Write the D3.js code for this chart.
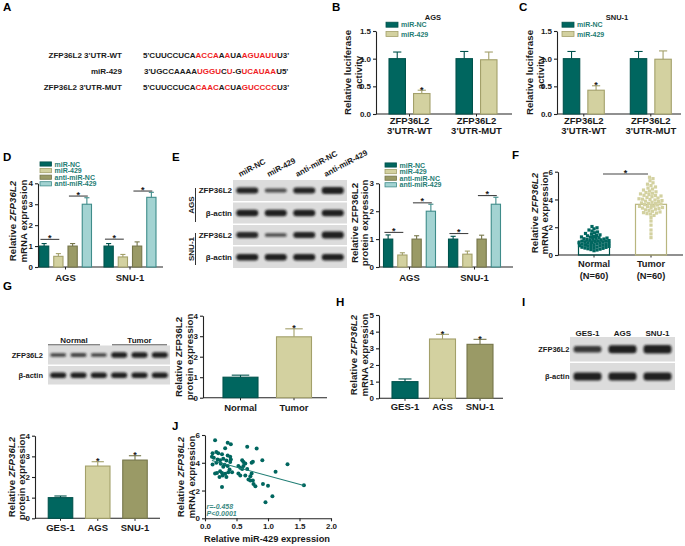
<!DOCTYPE html>
<html><head><meta charset="utf-8">
<script src="https://cdn.jsdelivr.net/npm/d3@7"></script>
<style>
body{margin:0;background:#fff;}
svg{display:block;font-family:"Liberation Sans",Arial,sans-serif;font-weight:bold;}
</style></head><body>
<svg id="fig" width="685" height="546"></svg>
<script>
// ================= DATA =================
// A: binding sequences  (segment, highlighted?)
const seqRowLabels = ["ZFP36L2 3'UTR-WT", "miR-429", "ZFP36L2 3'UTR-MUT"];
const seqWT  = [["5'CUUCCUCA",0],["ACCA",1],["A",0],["A",1],["UA",0],["AGUAUU",1],["U3'",0]];
const seqMiR = [["3'UGCCAAAA",0],["UGGU",1],["C",0],["U",1],["-G",0],["UCAUAA",1],["U5'",0]];
const seqMUT = [["5'CUUCCUCA",0],["CAAC",1],["A",0],["C",1],["UA",0],["GUCCCC",1],["U3'",0]];

// B / C: luciferase  [series][category]
const lucCats = ["ZFP36L2 3'UTR-WT", "ZFP36L2 3'UTR-MUT"];
const lucCatLines = [["ZFP36L2","3'UTR-WT"],["ZFP36L2","3'UTR-MUT"]];
const lucSeries = ["miR-NC", "miR-429"];
const lucAGS    = [[1.00, 1.00], [0.37, 0.98]];
const lucAGSErr = [[1.12, 1.13], [0.43, 1.12]];
const lucSNU    = [[1.00, 1.00], [0.43, 0.99]];
const lucSNUErr = [[1.13, 1.13], [0.51, 1.14]];
const lucSig    = [[0, 0], [1, 0]];
const lucTicks  = [0, 0.5, 1.0, 1.5];

// D / E: transfection  [series][cell line]
const cellLines   = ["AGS", "SNU-1"];
const transSeries = ["miR-NC", "miR-429", "anti-miR-NC", "anti-miR-429"];
const mrnaD    = [[1.00, 1.00], [0.51, 0.48], [1.00, 1.00], [3.00, 3.33]];
const mrnaDErr = [[1.12, 1.12], [0.64, 0.60], [1.12, 1.20], [3.31, 3.57]];
const protE    = [[1.00, 1.00], [0.43, 0.46], [1.00, 1.00], [2.00, 2.25]];
const protEErr = [[1.15, 1.10], [0.51, 0.57], [1.12, 1.14], [2.25, 2.50]];
const sigPairs   = [[0, 1], [2, 3]];
const bracketD   = [[1.32, 3.39], [1.33, 3.63]];   // [cell line][pair]
const bracketE   = [[1.24, 2.30], [1.20, 2.56]];
const ticksD = [0, 1, 2, 3, 4];
const ticksE = [0, 1, 2, 3];

// E blot
const blotERows   = ["ZFP36L2", "β-actin", "ZFP36L2", "β-actin"];
const blotEGroups = ["AGS", "SNU-1"];
const blotEInt    = [[0.95, 0.55, 0.95, 1.05], [1, 1, 1, 1], [0.9, 0.5, 0.95, 1.05], [1, 1, 1, 1]];

// F: tissue mRNA scatter
const tissueGroups = ["Normal", "Tumor"];
const tissueN      = ["(N=60)", "(N=60)"];
const tissueMeans  = [1.0, 3.65];
const tissueSig    = 5.83;
const normalVals = [0.31,0.36,0.42,0.45,0.48,0.50,0.53,0.56,0.58,0.61,0.62,0.65,0.67,0.70,0.72,0.73,0.76,0.78,0.81,0.83,
  0.85,0.88,0.90,0.92,0.94,0.97,1.00,1.02,1.04,1.07,1.09,1.12,1.15,1.17,1.20,1.22,1.25,1.28,1.30,1.34,
  1.38,1.41,1.45,1.50,1.55,1.60,1.66,1.72,1.80,1.88,1.96,2.05,0.39,0.55,0.74,0.87,0.99,1.13,0.66,0.82];
const tumorVals = [1.25,1.52,1.80,2.15,2.45,2.70,2.85,2.95,3.02,3.10,3.15,3.20,3.25,3.30,3.35,3.40,3.42,3.48,3.52,3.55,
  3.60,3.63,3.68,3.72,3.75,3.80,3.85,3.88,3.92,3.96,4.00,4.05,4.10,4.15,4.20,4.25,4.30,4.35,4.40,4.45,
  4.50,4.55,4.60,4.68,4.75,4.82,4.90,5.00,5.10,5.20,5.35,5.50,5.60,3.05,3.38,3.70,4.02,4.28,3.50,2.98];
const ticksF = [0, 2, 4, 6];

// G: tissue blot + protein
const blotGLanes = ["N1", "N2", "N3", "T1", "T2", "T3"];
const blotGRows  = ["ZFP36L2", "β-actin"];
const blotGInt   = [[0.6, 0.62, 0.6, 1, 1, 1], [1, 1, 1, 1, 1, 1]];
const protG      = [1.00, 2.97];
const protGErr   = [1.10, 3.36];
const protGSig   = [0, 1];

// H / I: cell lines
const cellLines3 = ["GES-1", "AGS", "SNU-1"];
const mrnaH      = [1.00, 3.56, 3.24];
const mrnaHErr   = [1.16, 3.84, 3.54];
const protI      = [1.00, 2.53, 2.82];
const protIErr   = [1.08, 2.74, 3.03];
const sig3       = [0, 1, 1];
const blotIRows  = ["ZFP36L2", "β-actin"];
const blotIInt   = [[0.75, 1, 1.05], [1, 1, 1]];
const ticksH = [0, 1, 2, 3, 4, 5];

// J: correlation
const jX = [0.16,0.36,0.41,0.67,0.82,0.32,0.12,0.18,0.21,0.27,0.36,0.40,0.11,0.14,0.20,0.24,0.29,0.34,0.41,0.59,
  0.61,0.64,0.74,0.76,0.91,1.31,0.12,0.18,0.25,0.31,0.40,0.29,0.36,0.39,0.53,0.56,0.59,0.61,0.67,0.19,
  0.24,0.27,0.32,0.37,0.43,0.53,0.56,0.64,0.72,0.74,0.16,0.23,0.28,0.34,0.72,0.76,0.69,1.12,0.77,0.80,
  0.92,1.00,1.57,0.27,1.07,0.96];
const jY = [5.62,5.45,5.33,5.16,5.02,5.04,4.68,4.78,4.68,4.61,4.53,4.44,4.44,4.36,4.24,4.19,4.29,4.17,4.24,4.19,
  4.05,3.95,4.00,4.07,4.19,3.90,3.88,4.00,3.93,3.85,4.05,3.71,3.76,3.52,3.76,3.64,3.56,3.76,3.56,3.27,
  3.39,3.27,3.20,3.32,3.32,3.22,3.08,3.08,3.03,3.22,3.22,2.98,3.08,2.98,2.72,2.72,2.79,3.35,2.47,2.30,
  2.47,2.35,2.38,2.25,1.58,1.16];
const jFitX = [0.11, 1.57];
const jFitY = [4.16, 2.36];
const jStats = ["r=-0.458", "P<0.0001"];
const jXTicks = [0, 0.5, 1.0, 1.5, 2.0];
const jYTicks = [0, 2, 4, 6];

// ================= STYLE =================
const C = {
  teal: "#00665f", tealS: "#00524c",
  khaki: "#d3d1a0", khakiS: "#a3a06a",
  olive: "#9a9a66", oliveS: "#76764a",
  lteal: "#a3d3d2", ltealS: "#3f8c8a",
  legTxt: "#1f7d74", red: "#f01c24", ink: "#1a1a1a", axis: "#222"
};
const transFill   = [C.teal, C.khaki, C.olive, C.lteal];
const transStroke = [C.tealS, C.khakiS, C.oliveS, C.ltealS];
const fill3   = [C.teal, C.khaki, C.olive];
const stroke3 = [C.tealS, C.khakiS, C.oliveS];

const svg = d3.select("#fig");
const defs = svg.append("defs");
defs.append("filter").attr("id", "blur").attr("x", "-30%").attr("y", "-80%").attr("width", "160%").attr("height", "260%")
  .append("feGaussianBlur").attr("stdDeviation", 0.9);

// ================= HELPERS =================
function letter(t, x, y) {
  svg.append("text").attr("x", x).attr("y", y).attr("font-size", 11.5).attr("fill", "#000").text(t);
}
function yAxis(y, x, ticks, fmt) {
  const g = svg.append("g").attr("transform", `translate(${x},0)`)
    .call(d3.axisLeft(y).tickValues(ticks).tickFormat(fmt).tickSize(3).tickSizeOuter(0).tickPadding(2));
  g.attr("font-family", null).attr("font-size", 8).attr("font-weight", "bold");
  g.selectAll("path,line").attr("stroke", C.axis).attr("stroke-width", 1.1);
  g.selectAll("text").attr("fill", C.ink);
  return g;
}
function xAxisLine(x0, x1, yPix, tickXs) {
  svg.append("line").attr("x1", x0).attr("x2", x1).attr("y1", yPix).attr("y2", yPix)
    .attr("stroke", C.axis).attr("stroke-width", 1.1);
  tickXs.forEach(tx => svg.append("line").attr("x1", tx).attr("x2", tx).attr("y1", yPix).attr("y2", yPix + 2.5)
    .attr("stroke", C.axis).attr("stroke-width", 1));
}
function yTitle(cx, cy, lines, gap = 10.5, size = 9.7) {
  lines.forEach((segs, i) => {
    const t = svg.append("text")
      .attr("transform", `translate(${cx + i * gap},${cy}) rotate(-90)`)
      .attr("text-anchor", "middle").attr("dominant-baseline", "central")
      .attr("font-size", size).attr("fill", C.ink);
    segs.forEach(s => {
      const sp = t.append("tspan").text(Array.isArray(s) ? s[0] : s);
      if (Array.isArray(s) && s[1]) sp.attr("font-style", "italic");
    });
  });
}
function catLabel(x, y, txt, size = 9.5) {
  svg.append("text").attr("x", x).attr("y", y).attr("text-anchor", "middle")
    .attr("font-size", size).attr("fill", C.ink).text(txt);
}
function bar(y, x, w, v, e, fill, stroke, star, capFrac = 0.5) {
  svg.append("rect").attr("x", x).attr("y", y(v)).attr("width", w).attr("height", y(0) - y(v))
    .attr("fill", fill).attr("stroke", stroke).attr("stroke-width", 1.1);
  const cx = x + w / 2, cw = w * capFrac;
  svg.append("line").attr("x1", cx).attr("x2", cx).attr("y1", y(v)).attr("y2", y(e))
    .attr("stroke", stroke).attr("stroke-width", 1.1);
  svg.append("line").attr("x1", cx - cw / 2).attr("x2", cx + cw / 2).attr("y1", y(e)).attr("y2", y(e))
    .attr("stroke", stroke).attr("stroke-width", 1.1);
  if (star) svg.append("text").attr("x", cx).attr("y", y(e) + 2.5).attr("text-anchor", "middle")
    .attr("font-size", 9).attr("fill", C.ink).text("*");
}
function bracket(y, x0, x1, v) {
  svg.append("line").attr("x1", x0).attr("x2", x1).attr("y1", y(v)).attr("y2", y(v))
    .attr("stroke", "#444").attr("stroke-width", 1.1);
  svg.append("text").attr("x", (x0 + x1) / 2).attr("y", y(v) + 1.5).attr("text-anchor", "middle")
    .attr("font-size", 9).attr("fill", C.ink).text("*");
}
function legend(x, ys, names, fills, strokes, rw = 12, rh = 4.5) {
  names.forEach((n, i) => {
    svg.append("rect").attr("x", x).attr("y", ys[i] - rh / 2).attr("width", rw).attr("height", rh)
      .attr("fill", fills[i]).attr("stroke", strokes[i]).attr("stroke-width", 0.8);
    svg.append("text").attr("x", x + rw + 3).attr("y", ys[i]).attr("dominant-baseline", "central")
      .attr("font-size", 7).attr("fill", C.legTxt).text(n);
  });
}
function blotRow(x0, x1, top, h, laneScale, lanes, ints, bw, bh) {
  svg.append("rect").attr("x", x0).attr("y", top).attr("width", x1 - x0).attr("height", h).attr("fill", "#dcdcdc");
  lanes.forEach((ln, i) => {
    const k = ints[i];
    const hh = bh * Math.pow(k, 0.8);
    svg.append("rect").attr("x", laneScale(ln) - bw / 2).attr("y", top + h / 2 - hh / 2)
      .attr("width", bw).attr("height", hh).attr("rx", Math.min(hh / 2, 3))
      .attr("fill", "#141414").attr("opacity", 0.45 + 0.5 * Math.min(k, 1))
      .attr("filter", "url(#blur)");
  });
}
// greedy beeswarm (layout only): returns x offsets for each value
function swarmOffsets(vals, y, d, maxHalf) {
  const items = vals.map((v, i) => ({ i, py: y(v) })).sort((a, b) => b.py - a.py);
  const placed = [];
  items.forEach(p => {
    let off = 0, found = false;
    for (let k = 0; k <= 60 && !found; k++) {
      const cands = k === 0 ? [0] : [k * 0.5, -k * 0.5];
      for (const s of cands) {
        if (Math.abs(s) > maxHalf) continue;
        if (placed.every(q => (q.dx - s) ** 2 + (q.py - p.py) ** 2 >= d * d)) { off = s; found = true; break; }
      }
    }
    if (!found) off = (placed.length % 2 ? 1 : -1) * maxHalf * ((p.i * 37) % 100) / 100;
    p.dx = off; placed.push(p);
  });
  const out = new Array(vals.length);
  placed.forEach(p => out[p.i] = p.dx);
  return out;
}

// ================= PANEL A =================
letter("A", 3, 11);
const seqRows = [seqWT, seqMiR, seqMUT];
const seqY = d3.scalePoint().domain(seqRowLabels).range([55, 87]);
seqRowLabels.forEach((l, i) => {
  svg.append("text").attr("x", 122).attr("y", seqY(l)).attr("dominant-baseline", "central")
    .attr("text-anchor", "end").attr("font-size", 8).attr("fill", C.ink).text(l);
  const t = svg.append("text").attr("x", i === 1 ? 144 : 143).attr("y", seqY(l))
    .attr("dominant-baseline", "central").attr("font-size", 8);
  seqRows[i].forEach(([s, r]) => t.append("tspan").attr("fill", r ? C.red : C.ink).text(s));
});

// ================= PANELS B / C =================
function lucPanel(axisX, axisEnd, bandStart, title, titleX, vals, errs, legX, ytX) {
  const y = d3.scaleLinear().domain([0, 1.5]).range([114, 31]);
  const gx = d3.scaleBand().domain(lucCats).range([bandStart, bandStart + 134]);
  const sx = d3.scaleBand().domain(lucSeries).range([0, gx.bandwidth()]).paddingInner(0.33).paddingOuter(0.53);
  yAxis(y, axisX, lucTicks, d3.format(".1f"));
  xAxisLine(axisX, axisEnd, y(0), lucCats.map(c => gx(c) + gx.bandwidth() / 2));
  lucSeries.forEach((s, si) => lucCats.forEach((c, ci) => {
    bar(y, gx(c) + sx(s), sx.bandwidth(), vals[si][ci], errs[si][ci],
      si === 0 ? C.teal : C.khaki, si === 0 ? C.tealS : C.khakiS, lucSig[si][ci]);
  }));
  lucCats.forEach((c, ci) => {
    const cx = gx(c) + gx.bandwidth() / 2;
    catLabel(cx, 123.5, lucCatLines[ci][0]);
    catLabel(cx, 134, lucCatLines[ci][1]);
  });
  svg.append("text").attr("x", titleX).attr("y", 19.5).attr("text-anchor", "middle")
    .attr("font-size", 7.5).attr("fill", C.ink).text(title);
  legend(legX, [24.7, 34], lucSeries, [C.teal, C.khaki], [C.tealS, C.khakiS], 12, 5);
  yTitle(ytX, 72.5, [["Relative luciferase"], ["activity"]]);
}
letter("B", 332, 11);
lucPanel(376, 512, 376, "AGS", 433, lucAGS, lucAGSErr, 386, 347);
letter("C", 519, 11);
lucPanel(557, 681, 550.3, "SNU-1", 617, lucSNU, lucSNUErr, 562, 529);

// ================= PANELS D / E (charts) =================
function transPanel(axisX, axisEnd, centers, yMax, ticks, vals, errs, brackets, legX, legYs, ytX, ytY, ytLines) {
  const y = d3.scaleLinear().domain([0, yMax]).range([267, 183.3]);
  const gx = d3.scalePoint().domain(cellLines).range(centers);
  const sx = d3.scaleBand().domain(transSeries).range([-26, 26]).paddingInner(0.35);
  yAxis(y, axisX, ticks, d3.format("d"));
  xAxisLine(axisX, axisEnd, y(0), cellLines.map(c => gx(c)));
  transSeries.forEach((s, si) => cellLines.forEach((c, ci) => {
    bar(y, gx(c) + sx(s), sx.bandwidth(), vals[si][ci], errs[si][ci], transFill[si], transStroke[si], false, 0.55);
  }));
  cellLines.forEach((c, ci) => {
    sigPairs.forEach((p, pi) => {
      const a = gx(c) + sx(transSeries[p[0]]) + sx.bandwidth() * 0.1;
      const b = gx(c) + sx(transSeries[p[1]]) + sx.bandwidth() * 0.6;
      bracket(y, a, b, brackets[ci][pi]);
    });
    catLabel(gx(c), 280.5, c);
  });
  legend(legX, legYs, transSeries, transFill, transStroke, 11.5, 4.2);
  yTitle(ytX, ytY, ytLines);
}
letter("D", 3, 161);
transPanel(38, 163, [65.5, 130], 4, ticksD, mrnaD, mrnaDErr, bracketD, 40, [164, 170.6, 177.2, 183.8], 12, 221,
  [["Relative ", ["ZFP36L2", 1]], ["mRNA expression"]]);
letter("E", 172, 161);
transPanel(379, 513, [409.5, 474.5], 3, ticksE, protE, protEErr, bracketE, 385, [165, 171.6, 178.2, 184.8], 353.5, 223,
  [["Relative ZFP36L2"], ["protein expression"]]);

// E blot
{
  const x0 = 233, x1 = 347;
  const lane = d3.scalePoint().domain(transSeries).range([x0, x1]).padding(0.5);
  const tops = [180, 202.5, 225, 246.5], hs = [21, 21, 20, 21.5];
  blotERows.forEach((r, i) => {
    blotRow(x0, x1, tops[i], hs[i], lane, transSeries, blotEInt[i], 22, 6.5);
    svg.append("text").attr("x", 232).attr("y", tops[i] + hs[i] / 2).attr("dominant-baseline", "central")
      .attr("text-anchor", "end").attr("font-size", 8).attr("fill", C.ink).text(r);
  });
  transSeries.forEach(s => {
    svg.append("text").attr("transform", `translate(${lane(s) - 7},177) rotate(-28)`)
      .attr("font-size", 8).attr("fill", C.ink).text(s);
  });
  const grpSpan = [[188, 222], [233, 265]];
  blotEGroups.forEach((g, i) => {
    const cy = (grpSpan[i][0] + grpSpan[i][1]) / 2;
    svg.append("text").attr("transform", `translate(193.5,${cy}) rotate(-90)`).attr("text-anchor", "middle")
      .attr("font-size", 8).attr("fill", C.ink).text(g);
    svg.append("line").attr("x1", 195.5).attr("x2", 195.5).attr("y1", grpSpan[i][0]).attr("y2", grpSpan[i][1])
      .attr("stroke", "#333").attr("stroke-width", 1);
  });
}

// ================= PANEL F =================
letter("F", 512, 158.5);
{
  const y = d3.scaleLinear().domain([0, 6]).range([255, 171.7]);
  const gx = d3.scalePoint().domain(tissueGroups).range([594, 651]);
  const bw = 31;
  yAxis(y, 558, ticksF, d3.format("d"));
  xAxisLine(558, 683, y(0), tissueGroups.map(g => gx(g)));
  const colors = [C.teal, C.khaki];
  [normalVals, tumorVals].forEach((vals, gi) => {
    const g = tissueGroups[gi];
    svg.append("rect").attr("x", gx(g) - bw / 2).attr("y", y(tissueMeans[gi])).attr("width", bw)
      .attr("height", y(0) - y(tissueMeans[gi])).attr("fill", "none").attr("stroke", gi ? "#b9b67f" : C.tealS).attr("stroke-width", 1.2);
    const offs = swarmOffsets(vals, y, gi ? 3.4 : 2.9, gi ? 13 : 15);
    vals.forEach((v, i) => {
      svg.append("rect").attr("x", gx(g) + offs[i] - 1.6).attr("y", y(v) - 1.6).attr("width", 3.2).attr("height", 3.2)
        .attr("fill", colors[gi]);
    });
    catLabel(gx(g), 266.5, g, 9.3);
    catLabel(gx(g), 278.5, tissueN[gi], 9.3);
  });
  svg.append("line").attr("x1", 603).attr("x2", 648).attr("y1", y(tissueSig)).attr("y2", y(tissueSig))
    .attr("stroke", "#444").attr("stroke-width", 1.1);
  svg.append("text").attr("x", 625.5).attr("y", y(tissueSig) + 1.5).attr("text-anchor", "middle")
    .attr("font-size", 9).attr("fill", C.ink).text("*");
  yTitle(533.5, 213, [["Relative ", ["ZFP36L2", 1]], ["mRNA expression"]]);
}

// ================= PANEL G =================
letter("G", 3, 290);
{
  const x0 = 48, x1 = 170;
  const lane = d3.scalePoint().domain(blotGLanes).range([x0, x1]).padding(0.5);
  const tops = [345.5, 366], hs = [19, 18.5];
  blotGRows.forEach((r, i) => {
    blotRow(x0, x1, tops[i], hs[i], lane, blotGLanes, blotGInt[i], 16, 5.5);
    svg.append("text").attr("x", 43).attr("y", tops[i] + hs[i] / 2).attr("dominant-baseline", "central")
      .attr("text-anchor", "end").attr("font-size", 7.5).attr("fill", C.ink).text(r);
  });
  const grp = [[48, 100], [112, 167]];
  tissueGroups.forEach((g, i) => {
    svg.append("text").attr("x", (grp[i][0] + grp[i][1]) / 2).attr("y", 343).attr("text-anchor", "middle")
      .attr("font-size", 8).attr("fill", C.ink).text(g);
    svg.append("line").attr("x1", grp[i][0]).attr("x2", grp[i][1]).attr("y1", 344.8).attr("y2", 344.8)
      .attr("stroke", "#555").attr("stroke-width", 1);
  });

  const y = d3.scaleLinear().domain([0, 4]).range([397.7, 315.7]);
  const gx = d3.scalePoint().domain(tissueGroups).range([240.5, 294]);
  const bw = 35;
  yAxis(y, 203, ticksD, d3.format("d"));
  xAxisLine(203, 327, y(0), tissueGroups.map(g => gx(g)));
  tissueGroups.forEach((g, i) => {
    bar(y, gx(g) - bw / 2, bw, protG[i], protGErr[i], i ? C.khaki : C.teal, i ? C.khakiS : C.tealS, protGSig[i]);
    catLabel(gx(g), 410.5, g);
  });
  yTitle(178, 357, [["Relative ZFP36L2"], ["protein expression"]]);
}

// ================= PANEL H =================
letter("H", 336, 306);
{
  const y = d3.scaleLinear().domain([0, 5]).range([398.3, 315]);
  const gx = d3.scalePoint().domain(cellLines3).range([405, 480]);
  const bw = 26;
  yAxis(y, 379, ticksH, d3.format("d"));
  xAxisLine(379, 503, y(0), cellLines3.map(g => gx(g)));
  cellLines3.forEach((g, i) => {
    bar(y, gx(g) - bw / 2, bw, mrnaH[i], mrnaHErr[i], fill3[i], stroke3[i], sig3[i]);
    catLabel(gx(g), 409.5, g);
  });
  yTitle(353, 355, [["Relative ", ["ZFP36L2", 1]], ["mRNA expression"]]);
}

// ================= PANEL I =================
letter("I", 522, 306);
{
  const x0 = 570, x1 = 675;
  const lane = d3.scalePoint().domain(cellLines3).range([x0, x1]).padding(0.5);
  const tops = [337, 363], hs = [24.5, 27];
  blotIRows.forEach((r, i) => {
    blotRow(x0, x1, tops[i], hs[i], lane, cellLines3, blotIInt[i], 28, 8);
    svg.append("text").attr("x", 569.5).attr("y", tops[i] + hs[i] / 2).attr("dominant-baseline", "central")
      .attr("text-anchor", "end").attr("font-size", 7.5).attr("fill", C.ink).text(r);
  });
  cellLines3.forEach(c => {
    svg.append("text").attr("x", lane(c)).attr("y", 336).attr("text-anchor", "middle")
      .attr("font-size", 8).attr("fill", C.ink).text(c);
  });

  const y = d3.scaleLinear().domain([0, 4]).range([518.3, 435.7]);
  const gx = d3.scalePoint().domain(cellLines3).range([60.5, 135]);
  const bw = 24.5;
  yAxis(y, 35, ticksD, d3.format("d"));
  xAxisLine(35, 160, y(0), cellLines3.map(g => gx(g)));
  cellLines3.forEach((g, i) => {
    bar(y, gx(g) - bw / 2, bw, protI[i], protIErr[i], fill3[i], stroke3[i], sig3[i]);
    catLabel(gx(g), 530.5, g);
  });
  yTitle(10.7, 477, [["Relative ", ["ZFP36L2", 1]], ["protein expression"]]);
}

// ================= PANEL J =================
letter("J", 172, 430);
{
  const x = d3.scaleLinear().domain([0, 2]).range([205, 331]);
  const y = d3.scaleLinear().domain([0, 6]).range([518.3, 435]);
  yAxis(y, 205, jYTicks, d3.format("d"));
  const gx = svg.append("g").attr("transform", `translate(0,${y(0)})`)
    .call(d3.axisBottom(x).tickValues(jXTicks).tickFormat(d3.format(".1f")).tickSize(3).tickSizeOuter(0).tickPadding(2));
  gx.attr("font-family", null).attr("font-size", 8).attr("font-weight", "bold");
  gx.selectAll("path,line").attr("stroke", C.axis).attr("stroke-width", 1.1);
  gx.selectAll("text").attr("fill", C.ink);
  svg.append("g").selectAll("circle").data(jX).join("circle")
    .attr("cx", d => x(d)).attr("cy", (d, i) => y(jY[i])).attr("r", 2).attr("fill", C.teal);
  svg.append("line").attr("x1", x(jFitX[0])).attr("y1", y(jFitY[0])).attr("x2", x(jFitX[1])).attr("y2", y(jFitY[1]))
    .attr("stroke", "#1f7d74").attr("stroke-width", 1.1);
  jStats.forEach((s, i) => {
    svg.append("text").attr("x", 206.5).attr("y", 506 + i * 7.3).attr("dominant-baseline", "central")
      .attr("font-size", 7).attr("font-style", "italic").attr("fill", "#3d8a84").text(s);
  });
  svg.append("text").attr("x", 267).attr("y", 538.5).attr("text-anchor", "middle").attr("dominant-baseline", "central")
    .attr("font-size", 9.3).attr("fill", C.ink).text("Relative miR-429 expression");
  yTitle(180, 477, [["Relative ", ["ZFP36L2", 1]], ["mRNA expression"]]);
}
</script>
</body></html>
